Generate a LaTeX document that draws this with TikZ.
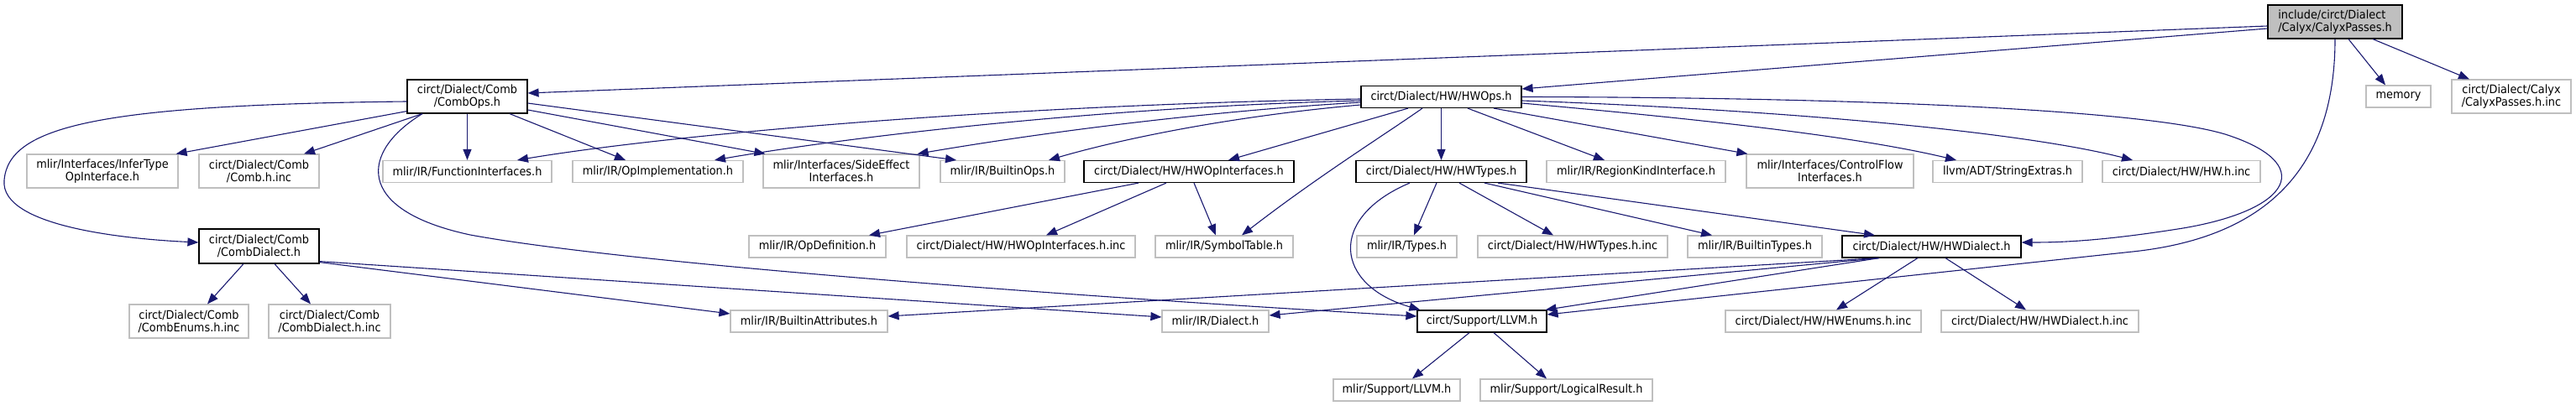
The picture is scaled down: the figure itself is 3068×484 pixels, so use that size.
\documentclass[tikz,border=0pt]{standalone}
\usepackage{fontspec}
\setmainfont{DejaVu Sans}[FakeStretch=0.92]
\usetikzlibrary{arrows.meta,calc}
\definecolor{edgeblue}{HTML}{191970}
\definecolor{nodegray}{HTML}{BFBFBF}
\tikzset{
  nbox/.style={draw=nodegray, fill=white, line width=1.2pt, inner sep=0pt, minimum height=26pt, align=center, font=\fontsize{14}{15}\selectfont},
  dbox/.style={nbox, draw=black},
  rbox/.style={nbox, draw=black, fill=nodegray, align=left},
  two/.style={minimum height=40pt},
  dep/.style={draw=edgeblue, line width=1.1pt, -{Triangle[length=13pt,width=10pt]}},
}
\begin{document}
\begin{tikzpicture}[x=1pt,y=-1pt]
\useasboundingbox (0,0) rectangle (3068,484);
% nodes
\node[rbox, two, minimum width=160pt] (root) at (2781,26) {include/circt/Dialect\\/Calyx/CalyxPasses.h};
\node[dbox, two, minimum width=143pt] (combops) at (556.5,115) {circt/Dialect/Comb\\/CombOps.h};
\node[dbox, minimum width=191pt] (hwops) at (1716.5,115.5) {circt/Dialect/HW/HWOps.h};
\node[nbox, minimum width=77pt] (memory) at (2856.5,115) {memory};
\node[nbox, two, minimum width=142pt] (calyxinc) at (2991,115) {circt/Dialect/Calyx\\/CalyxPasses.h.inc};
\node[nbox, two, minimum width=180pt] (infertype) at (122,204) {mlir/Interfaces/InferType\\OpInterface.h};
\node[nbox, two, minimum width=143pt] (combinc) at (308.5,204) {circt/Dialect/Comb\\/Comb.h.inc};
\node[nbox, minimum width=201pt] (funcif) at (556.5,204.5) {mlir/IR/FunctionInterfaces.h};
\node[nbox, minimum width=203pt] (opimpl) at (783.5,204.5) {mlir/IR/OpImplementation.h};
\node[nbox, two, minimum width=186pt] (sideeff) at (1002,204) {mlir/Interfaces/SideEffect\\Interfaces.h};
\node[nbox, minimum width=148pt] (builtinops) at (1194,204.5) {mlir/IR/BuiltinOps.h};
\node[dbox, minimum width=250pt] (hwopif) at (1416,204.5) {circt/Dialect/HW/HWOpInterfaces.h};
\node[dbox, minimum width=203pt] (hwtypes) at (1716.5,204.5) {circt/Dialect/HW/HWTypes.h};
\node[nbox, minimum width=213pt] (regionkind) at (1948.5,204.5) {mlir/IR/RegionKindInterface.h};
\node[nbox, two, minimum width=199pt] (ctrlflow) at (2179.5,204) {mlir/Interfaces/ControlFlow\\Interfaces.h};
\node[nbox, minimum width=178pt] (strext) at (2391,204.5) {llvm/ADT/StringExtras.h};
\node[nbox, minimum width=188pt] (hwinc) at (2598,204.5) {circt/Dialect/HW/HW.h.inc};
\node[dbox, two, minimum width=143pt, minimum height=41pt] (combdialect) at (308.5,293.5) {circt/Dialect/Comb\\/CombDialect.h};
\node[nbox, minimum width=163pt] (opdef) at (973.5,294) {mlir/IR/OpDefinition.h};
\node[nbox, minimum width=272pt] (hwopifinc) at (1216,294) {circt/Dialect/HW/HWOpInterfaces.h.inc};
\node[nbox, minimum width=164pt] (symtab) at (1458,294) {mlir/IR/SymbolTable.h};
\node[nbox, minimum width=119pt] (types) at (1675.5,294) {mlir/IR/Types.h};
\node[nbox, minimum width=226pt] (hwtypesinc) at (1873,294) {circt/Dialect/HW/HWTypes.h.inc};
\node[nbox, minimum width=160pt] (builtintypes) at (2090,294) {mlir/IR/BuiltinTypes.h};
\node[dbox, minimum width=213pt] (hwdialect) at (2300.5,294) {circt/Dialect/HW/HWDialect.h};
\node[nbox, two, minimum width=142pt] (combenums) at (225,383) {circt/Dialect/Comb\\/CombEnums.h.inc};
\node[nbox, two, minimum width=145pt] (combdialectinc) at (392.5,383) {circt/Dialect/Comb\\/CombDialect.h.inc};
\node[nbox, minimum width=187pt] (builtinattr) at (963.5,383) {mlir/IR/BuiltinAttributes.h};
\node[nbox, minimum width=127pt] (dialect) at (1447.5,383) {mlir/IR/Dialect.h};
\node[dbox, minimum width=154pt] (sllvm) at (1765,383) {circt/Support/LLVM.h};
\node[nbox, minimum width=233pt] (hwenums) at (2171.5,383) {circt/Dialect/HW/HWEnums.h.inc};
\node[nbox, minimum width=235pt] (hwdialectinc) at (2429.5,383) {circt/Dialect/HW/HWDialect.h.inc};
\node[nbox, minimum width=151pt] (mllvm) at (1663.5,465) {mlir/Support/LLVM.h};
\node[nbox, minimum width=205pt] (logres) at (1865.5,465) {mlir/Support/LogicalResult.h};
% root edges
\draw[dep] ($(root.west)+(0,5)$) -- ($(combops.east)+(0,-4)$);
\draw[dep] ($(root.west)+(0,8)$) -- ($(hwops.east)+(0,-9.5)$);
\draw[dep] ($(root.south)+(16,0)$) -- ($(memory.north)+(-15.5,0)$);
\draw[dep] ($(root.south)+(45,0)$) -- ($(calyxinc.north)+(-50,0)$);
\draw[dep] (root.south) .. controls (2781,200) and (2700,283) .. (2540,300) -- ($(sllvm.east)+(0,-8)$);
% HWOps edges
\draw[dep] ($(hwops.west)+(0,2.5)$) .. controls (1200,125) and (800,160) .. ($(funcif.north)+(59.5,0)$);
\draw[dep] ($(hwops.west)+(0,4.5)$) .. controls (1300,128) and (1000,165) .. ($(opimpl.north)+(67.5,0)$);
\draw[dep] ($(hwops.west)+(0,6.5)$) .. controls (1400,135) and (1200,165) .. ($(sideeff.north east)+(-3,0)$);
\draw[dep] ($(hwops.west)+(0,9.5)$) .. controls (1450,140) and (1320,170) .. ($(builtinops.north)+(55,0)$);
\draw[dep] ($(hwops.south)+(-39.5,0)$) -- ($(hwopif.north)+(47,0)$);
\draw[dep] ($(hwops.south)+(-22.5,0)$) .. controls (1650,160) and (1570,210) .. ($(symtab.north)+(21,0)$);
\draw[dep] (hwops.south) -- (hwtypes.north);
\draw[dep] ($(hwops.south)+(31.5,0)$) -- ($(regionkind.north)+(-37.5,0)$);
\draw[dep] ($(hwops.south)+(62.5,0)$) -- ($(ctrlflow.north west)+(2,0)$);
\draw[dep] ($(hwops.east)+(0,7.5)$) .. controls (2000,140) and (2200,160) .. ($(strext.north)+(-61,0)$);
\draw[dep] ($(hwops.east)+(0,4.5)$) .. controls (2100,130) and (2400,155) .. ($(hwinc.north)+(-58,0)$);
\draw[dep] (hwops.east) .. controls (2200,116) and (2550,130) .. (2650,160) .. controls (2760,195) and (2730,250) .. (2600,272) .. controls (2500,288) and (2450,289) .. ($(hwdialect.east)+(0,-5)$);
% CombOps edges
\draw[dep] ($(combops.west)+(0,6)$) .. controls (120,125) and (10,150) .. (5,215) .. controls (0,270) and (150,285) .. ($(combdialect.west)+(0,-4.5)$);
\draw[dep] ($(combops.south west)+(0,-3)$) -- ($(infertype.north east)+(-3,0)$);
\draw[dep] ($(combops.south)+(-53.5,0)$) -- ($(combinc.north)+(53.5,0)$);
\draw[dep] (combops.south) -- (funcif.north);
\draw[dep] ($(combops.south)+(50.5,0)$) -- ($(opimpl.north)+(-38.5,0)$);
\draw[dep] ($(combops.east)+(0,16)$) -- ($(sideeff.north west)+(3,0)$);
\draw[dep] ($(combops.east)+(0,8)$) -- ($(builtinops.north)+(-55,0)$);
\draw[dep] ($(combops.south)+(-53.5,0)$) .. controls (430,180) and (420,250) .. (560,280) .. controls (750,315) and (1300,355) .. ($(sllvm.west)+(0,-6)$);
% CombDialect edges
\draw[dep] ($(combdialect.south)+(-18.5,0)$) -- ($(combenums.north)+(22,0)$);
\draw[dep] ($(combdialect.south)+(18.5,0)$) -- ($(combdialectinc.north)+(-22.5,0)$);
\draw[dep] ($(combdialect.south east)+(0,-2)$) -- ($(builtinattr.west)+(0,-9)$);
\draw[dep] ($(combdialect.south east)+(0,-3)$) -- ($(dialect.west)+(0,-5)$);
% HWOpInterfaces edges
\draw[dep] ($(hwopif.south)+(-60,0)$) -- ($(opdef.north)+(61.5,0)$);
\draw[dep] ($(hwopif.south)+(-27,0)$) -- ($(hwopifinc.north)+(30,0)$);
\draw[dep] ($(hwopif.south)+(6,0)$) -- ($(symtab.north)+(-10,0)$);
% HWTypes edges
\draw[dep] ($(hwtypes.south)+(-37.5,0)$) .. controls (1580,260) and (1590,340) .. ($(sllvm.north west)+(4,0)$);
\draw[dep] ($(hwtypes.south)+(-5.5,0)$) -- ($(types.north)+(8.5,0)$);
\draw[dep] ($(hwtypes.south)+(21.5,0)$) -- ($(hwtypesinc.north)+(-23,0)$);
\draw[dep] ($(hwtypes.south)+(51.5,0)$) -- ($(builtintypes.north)+(-51,0)$);
\draw[dep] ($(hwtypes.south)+(67.5,0)$) -- ($(hwdialect.north)+(-67.5,0)$);
% HWDialect edges
\draw[dep] ($(hwdialect.south)+(-16.5,0)$) -- ($(hwenums.north)+(15.5,0)$);
\draw[dep] ($(hwdialect.south)+(16.5,0)$) -- ($(hwdialectinc.north)+(-16.5,0)$);
\draw[dep] ($(hwdialect.south)+(-62.5,0)$) -- ($(sllvm.north east)+(-2,0)$);
\draw[dep] ($(hwdialect.south)+(-62.5,0)$) -- ($(builtinattr.east)+(0,-6)$);
\draw[dep] ($(hwdialect.south)+(-62.5,0)$) -- ($(dialect.east)+(0,-7)$);
% circt/Support/LLVM edges
\draw[dep] ($(sllvm.south)+(-15,0)$) -- ($(mllvm.north)+(18.5,0)$);
\draw[dep] ($(sllvm.south)+(14,0)$) -- ($(logres.north)+(-23.5,0)$);
\end{tikzpicture}
\end{document}
